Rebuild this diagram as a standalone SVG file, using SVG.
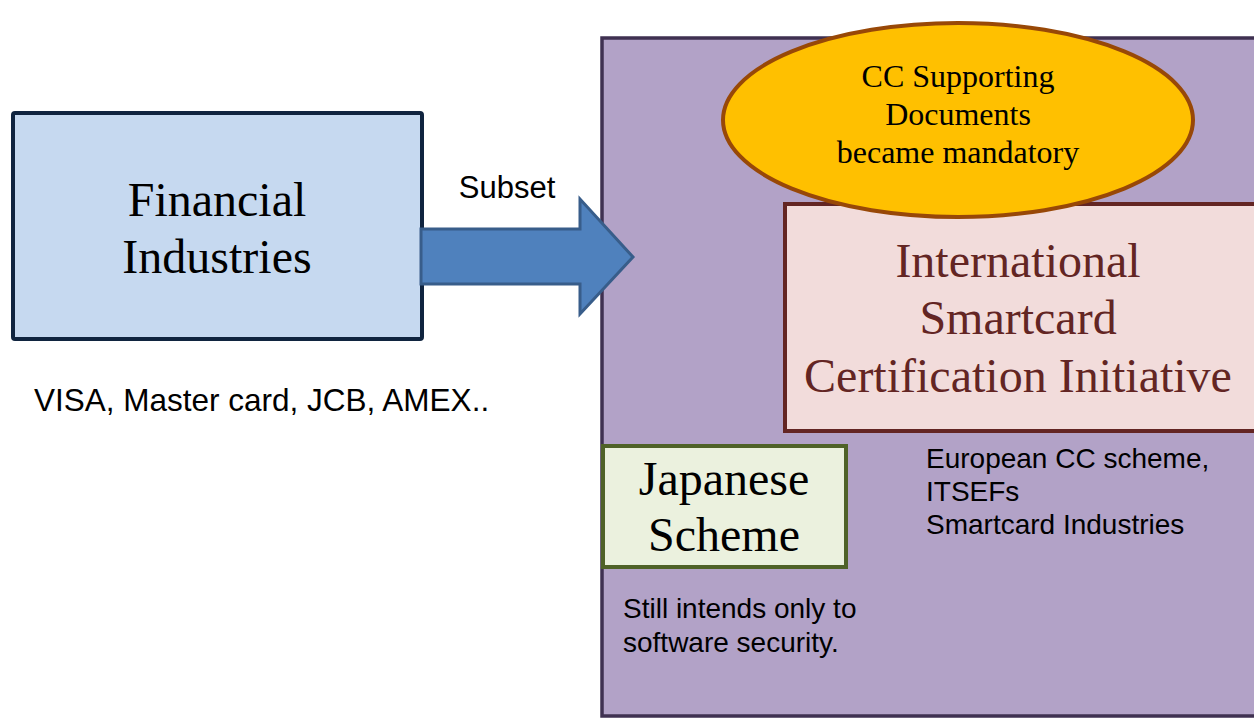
<svg xmlns="http://www.w3.org/2000/svg" width="1254" height="718" viewBox="0 0 1254 718">
  <style>
    .serif { font-family: "Liberation Serif", "Times New Roman", serif; text-anchor: middle; }
    .sans { font-family: "Liberation Sans", Arial, sans-serif; fill: #000; }
    .big { font-size: 48px; }
  </style>
  <rect width="1254" height="718" fill="#ffffff"/>

  <!-- container for certification schemes -->
  <g id="scheme-area">
    <rect x="602" y="38" width="670" height="678" fill="#b2a2c7" stroke="#3f3151" stroke-width="3.5"/>
  </g>

  <g id="financial">
    <rect x="13" y="113" width="409" height="226" rx="2" fill="#c6d9f0" stroke="#10243f" stroke-width="4"/>
    <text class="serif big" x="217" y="216" fill="#000">Financial</text>
    <text class="serif big" x="217" y="273" fill="#000">Industries</text>
    <text class="sans" x="34" y="411" font-size="31.5">VISA, Master card, JCB, AMEX..</text>
  </g>

  <g id="isci">
    <rect x="785" y="204" width="482" height="227" fill="#f2dcdb" stroke="#632523" stroke-width="4"/>
    <g class="serif big" fill="#632523">
      <text x="1018" y="277">International</text>
      <text x="1018" y="334">Smartcard</text>
      <text x="1018" y="392">Certification Initiative</text>
    </g>
    <g class="sans" font-size="28">
      <text x="926" y="468">European CC scheme,</text>
      <text x="926" y="501">ITSEFs</text>
      <text x="926" y="534">Smartcard Industries</text>
    </g>
  </g>

  <g id="supporting-docs">
    <ellipse cx="958" cy="120" rx="235" ry="97" fill="#ffc000" stroke="#984807" stroke-width="4"/>
    <g class="serif" font-size="32" fill="#000">
      <text x="958" y="87">CC Supporting</text>
      <text x="958" y="125">Documents</text>
      <text x="958" y="163">became mandatory</text>
    </g>
  </g>

  <g id="japanese">
    <rect x="603" y="446" width="243" height="121" fill="#ebf1de" stroke="#4f6228" stroke-width="4"/>
    <text class="serif big" x="724" y="495" fill="#000">Japanese</text>
    <text class="serif big" x="724" y="551" fill="#000">Scheme</text>
    <g class="sans" font-size="28">
      <text x="623" y="618">Still intends only to</text>
      <text x="623" y="652">software security.</text>
    </g>
  </g>

  <g id="connectors">
    <path d="M421,229 L580,229 L580,199 L633,257 L580,314 L580,284 L421,284 Z" fill="#4f81bd" stroke="#385d8a" stroke-width="3" stroke-linejoin="miter"/>
    <text class="sans" x="507" y="198" font-size="31" text-anchor="middle">Subset</text>
  </g>
</svg>
